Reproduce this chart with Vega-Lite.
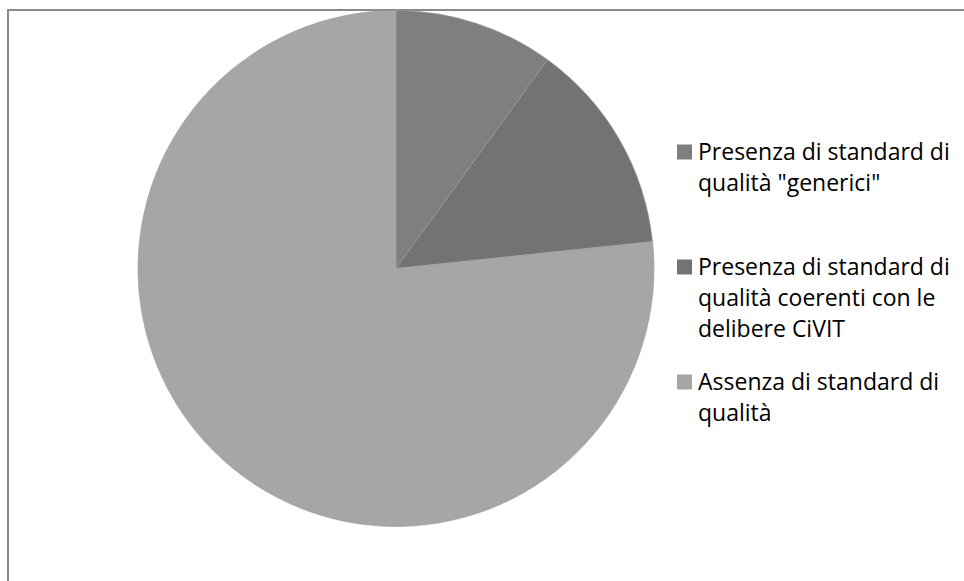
{
  "$schema": "https://vega.github.io/schema/vega-lite/v6.json",
  "autosize": {"type": "none"},
  "padding": {"left": 8, "top": 10, "right": 0, "bottom": 0},
  "width": 956,
  "height": 571,
  "background": "white",
  "config": {
    "view": {"stroke": null, "fill": null},
    "style": {"guide-label": {"lineHeight": 31}}
  },
  "data": {
    "values": [
      {"categoria": "Presenza di standard di\nqualità \"generici\"", "valore": 3, "ordine": 1},
      {"categoria": "Presenza di standard di\nqualità coerenti con le\ndelibere CiVIT", "valore": 4, "ordine": 2},
      {"categoria": "Assenza di standard di\nqualità", "valore": 23, "ordine": 3}
    ]
  },
  "layer": [
    {
      "data": {"values": [{"bordo": "cornice"}]},
      "mark": {"type": "rect", "fill": "transparent", "stroke": "#898989", "strokeWidth": 2},
      "encoding": {"x": {"value": 0}, "y": {"value": 0}, "x2": {"value": 1500}, "y2": {"value": 1200}}
    },
    {
      "mark": {"type": "arc", "x": 388, "y": 258.5, "outerRadius": 258, "stroke": "#9a9a9a", "strokeWidth": 0.6},
      "encoding": {
        "theta": {"field": "valore", "type": "quantitative", "stack": true},
        "order": {"field": "ordine", "type": "quantitative"},
        "color": {
          "field": "categoria",
          "type": "nominal",
          "sort": {"field": "ordine"},
          "scale": {
            "domain": [
              "Presenza di standard di\nqualità \"generici\"",
              "Presenza di standard di\nqualità coerenti con le\ndelibere CiVIT",
              "Assenza di standard di\nqualità"
            ],
            "range": ["#7f7f7f", "#737373", "#a6a6a6"]
          },
          "legend": {
            "title": null,
            "orient": "none",
            "legendX": 665,
            "legendY": 138,
            "padding": 0,
            "symbolType": "M-1,-2H1V0H-1Z",
            "symbolSize": 225,
            "symbolStrokeWidth": 0,
            "labelFont": "Open Sans",
            "labelFontSize": 23,
            "labelColor": "#000000",
            "labelLimit": 400,
            "labelOffset": 2,
            "labelBaseline": "alphabetic",
            "labelExpr": "split(datum.label + (length(split(datum.label, '\\n')) < 3 ? '\\n ' : ''), '\\n')",
            "rowPadding": 29
          }
        }
      }
    }
  ]
}
